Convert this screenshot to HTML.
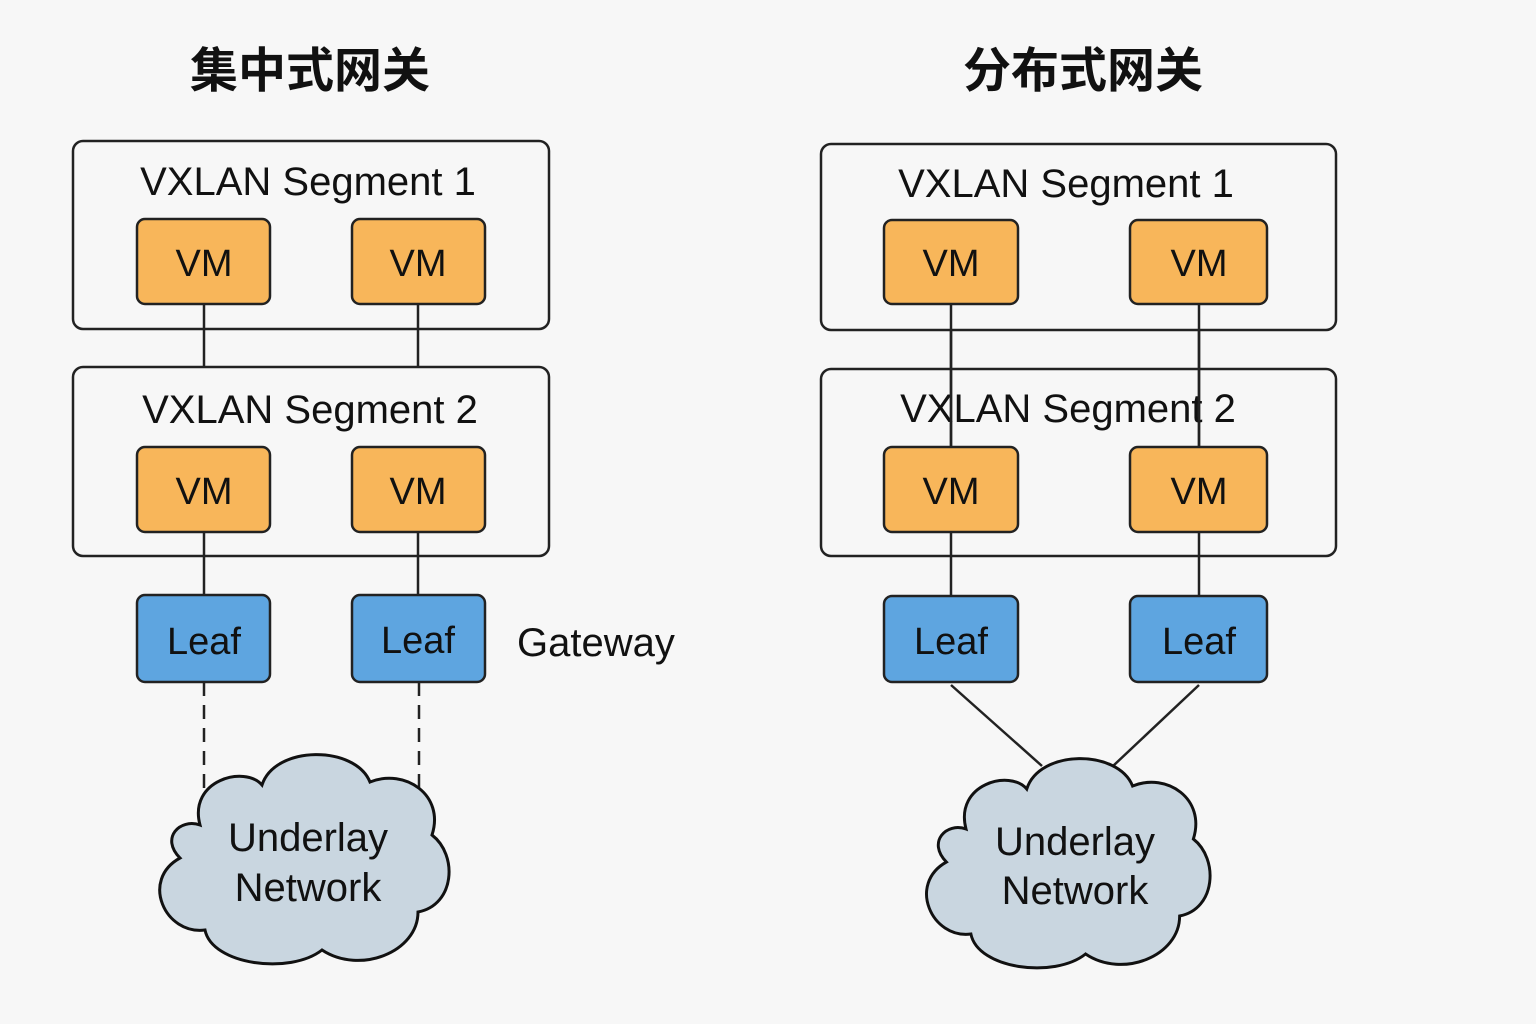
<!DOCTYPE html>
<html><head><meta charset="utf-8"><style>
html,body{margin:0;padding:0;background:#f7f7f7;}
svg{display:block;}
text{font-family:"Liberation Sans","Noto Sans CJK SC",sans-serif;fill:#111;}
</style></head><body>
<svg width="1536" height="1024" viewBox="0 0 1536 1024" xmlns="http://www.w3.org/2000/svg">
<rect width="1536" height="1024" fill="#f7f7f7"/>
<text x="310" y="87" font-size="48" font-weight="bold" text-anchor="middle" font-family="Noto Sans CJK SC,sans-serif">集中式网关</text>
<text x="1083" y="87" font-size="48" font-weight="bold" text-anchor="middle" font-family="Noto Sans CJK SC,sans-serif">分布式网关</text>

<g stroke="#222" stroke-width="2.5" fill="none">
<!-- left -->
<rect x="73" y="141" width="476" height="188" rx="10"/>
<rect x="73" y="367" width="476" height="189" rx="10"/>
<line x1="204" y1="304" x2="204" y2="367"/><line x1="418" y1="304" x2="418" y2="367"/>
<line x1="204" y1="532" x2="204" y2="595"/><line x1="418" y1="532" x2="418" y2="595"/>
<line x1="204" y1="682" x2="204" y2="790" stroke-dasharray="14,9"/>
<line x1="419" y1="682" x2="419" y2="790" stroke-dasharray="14,9"/>
<!-- right -->
<rect x="821" y="144" width="515" height="186" rx="10"/>
<rect x="821" y="369" width="515" height="187" rx="10"/>
<line x1="951" y1="304" x2="951" y2="447"/><line x1="1199" y1="304" x2="1199" y2="447"/>
<line x1="951" y1="532" x2="951" y2="595"/><line x1="1199" y1="532" x2="1199" y2="595"/>
<line x1="951" y1="685" x2="1042" y2="766"/><line x1="1199" y1="685" x2="1113" y2="766"/>
</g>

<g font-size="40">
<text x="308" y="195" text-anchor="middle">VXLAN Segment 1</text>
<text x="310" y="423" text-anchor="middle">VXLAN Segment 2</text>
<text x="1066" y="197" text-anchor="middle">VXLAN Segment 1</text>
<text x="1068" y="422" text-anchor="middle">VXLAN Segment 2</text>
</g>
<g stroke="#222" stroke-width="2.5" fill="none">
<line x1="951" y1="330" x2="951" y2="447"/><line x1="1199" y1="330" x2="1199" y2="447"/>
</g>

<g stroke="#222" stroke-width="2.5" fill="#f8b65a">
<rect x="137" y="219" width="133" height="85" rx="8"/>
<rect x="352" y="219" width="133" height="85" rx="8"/>
<rect x="137" y="447" width="133" height="85" rx="8"/>
<rect x="352" y="447" width="133" height="85" rx="8"/>
<rect x="884" y="220" width="134" height="84" rx="8"/>
<rect x="1130" y="220" width="137" height="84" rx="8"/>
<rect x="884" y="447" width="134" height="85" rx="8"/>
<rect x="1130" y="447" width="137" height="85" rx="8"/>
</g>
<g stroke="#222" stroke-width="2.5" fill="#5ea5e0">
<rect x="137" y="595" width="133" height="87" rx="8"/>
<rect x="352" y="595" width="133" height="87" rx="8"/>
<rect x="884" y="596" width="134" height="86" rx="8"/>
<rect x="1130" y="596" width="137" height="86" rx="8"/>
</g>
<g font-size="38" text-anchor="middle">
<text x="204" y="276">VM</text><text x="418" y="276">VM</text>
<text x="204" y="504">VM</text><text x="418" y="504">VM</text>
<text x="951" y="276">VM</text><text x="1199" y="276">VM</text>
<text x="951" y="504">VM</text><text x="1199" y="504">VM</text>
<text x="204" y="654">Leaf</text><text x="418" y="653">Leaf</text>
<text x="951" y="654">Leaf</text><text x="1199" y="654">Leaf</text>
</g>
<text x="517" y="656" font-size="40">Gateway</text>

<path id="cl" d="M200 825 C188 780 245 765 262 785 C275 745 355 745 370 782 C405 768 445 795 432 835 C458 855 455 905 418 912 C418 952 360 975 322 950 C290 975 212 965 205 930 C165 935 140 880 180 858 C160 838 180 818 200 825 Z" fill="#c9d6e0" stroke="#111" stroke-width="3"/>
<path d="M200 825 C188 780 245 765 262 785 C275 745 355 745 370 782 C405 768 445 795 432 835 C458 855 455 905 418 912 C418 952 360 975 322 950 C290 975 212 965 205 930 C165 935 140 880 180 858 C160 838 180 818 200 825 Z" transform="translate(770,4) scale(0.98,1)" fill="#c9d6e0" stroke="#111" stroke-width="3"/>
<g font-size="40" text-anchor="middle">
<text x="308" y="851">Underlay</text><text x="308" y="901">Network</text>
<text x="1075" y="855">Underlay</text><text x="1075" y="904">Network</text>
</g>
</svg>
</body></html>
